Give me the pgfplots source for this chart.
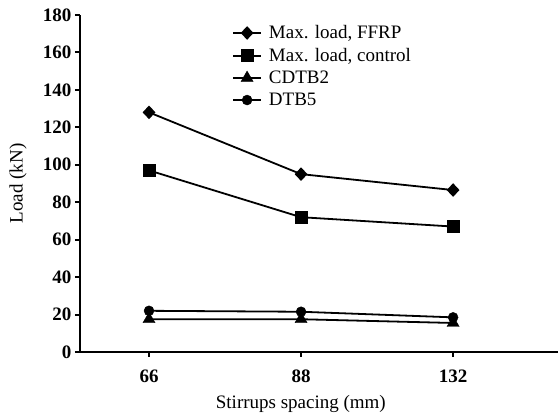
\documentclass[border=0pt]{standalone}
\usepackage{fontspec}
\setmainfont{Liberation Serif}
\usepackage{pgfplots}
\pgfplotsset{compat=1.18}
\begin{document}
\begin{tikzpicture}
\useasboundingbox (-80pt,-65pt) rectangle (478pt,352pt);
\begin{axis}[
  scale only axis, width=478pt, height=337pt,
  at={(0pt,0pt)}, anchor=south west,
  xmin=-0.454, xmax=2.69, ymin=0, ymax=180,
  axis lines=left,
  axis line style={-, line width=2.5pt},
  xtick={0,1,2}, xticklabels={66,88,132},
  ytick={0,20,...,180},
  tick align=outside, major tick length=5pt,
  tick style={line width=2pt, black},
  tick label style={font=\fontsize{19}{22}\selectfont\bfseries},
  xticklabel style={yshift=-9pt},
  /pgf/number format/assume math mode=true,
  label style={font=\fontsize{19}{22}\selectfont},
  xlabel={Stirrups spacing (mm)}, ylabel={Load (kN)},
  xlabel style={at={(axis description cs:0.462,-0.1528)}, anchor=center},
  ylabel style={at={(axis description cs:-0.1297,0.5)}, anchor=center},
  legend style={at={(axis description cs:0.318,0.975)}, anchor=north west,
    draw=none, fill=none, inner sep=0pt, row sep=4pt,
    font=\fontsize{19}{22}\selectfont},
  legend cell align=left,
  legend image code/.code={\draw[mark repeat=2,mark phase=2] plot coordinates {(0pt,0pt) (14pt,0pt) (28pt,0pt)}; \path (33pt,0pt);},
  every axis plot/.append style={black, line width=1.8pt, mark options={solid, line width=0.4pt}},
]
\addplot[mark=diamond*, mark size=5.5pt, mark options={xscale=1.25}] coordinates {(0,128) (1,95) (2,86.5)};
\addlegendentry{Max. load, FFRP}
\addplot[mark=square*, mark size=6pt] coordinates {(0,97) (1,72) (2,67)};
\addlegendentry{Max. load, control}
\addplot[mark=triangle*, mark size=7pt] coordinates {(0,17.5) (1,17.5) (2,15.5)};
\addlegendentry{CDTB2}
\addplot[mark=*, mark size=5pt] coordinates {(0,22) (1,21.5) (2,18.5)};
\addlegendentry{DTB5}
\end{axis}
\end{tikzpicture}
\end{document}
